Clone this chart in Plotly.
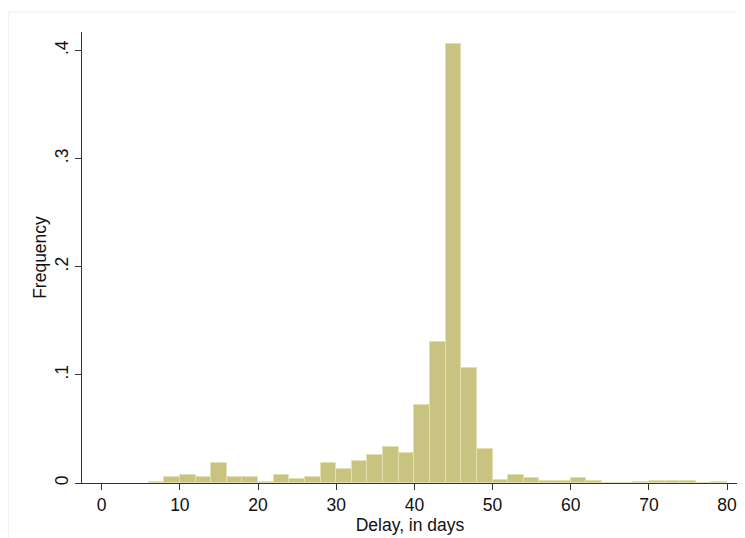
import plotly.graph_objects as go

# Histogram of delay (bin width 2 days), fraction per bin
bin_start = [6, 8, 10, 12, 14, 16, 18, 20, 22, 24, 26, 28, 30, 32, 34, 36, 38,
             40, 42, 44, 46, 48, 50, 52, 54, 56, 58, 60, 62, 64, 66, 68, 70, 72, 74, 76, 78]
fraction = [0.0012, 0.0052, 0.0077, 0.0052, 0.0187, 0.0052, 0.0052, 0.0012, 0.0077, 0.0040,
            0.0052, 0.0187, 0.0132, 0.0200, 0.0255, 0.0334, 0.0278,
            0.0722, 0.1300, 0.4060, 0.1060, 0.0316, 0.0032, 0.0074, 0.0049, 0.0021, 0.0021,
            0.0049, 0.0021, 0.0, 0.0, 0.0010, 0.0021, 0.0021, 0.0021, 0.0, 0.0010]
bin_width = 2

x_ticks = [0, 10, 20, 30, 40, 50, 60, 70, 80]
y_ticks = [0, 0.1, 0.2, 0.3, 0.4]
y_tick_text = ["0", ".1", ".2", ".3", ".4"]

centers = [s + bin_width / 2 for s in bin_start]

fig = go.Figure(go.Bar(
    x=centers, y=fraction, width=bin_width,
    marker=dict(color="rgb(200,195,128)", line=dict(color="rgb(226,223,176)", width=1)),
))

font = dict(family="Liberation Sans, Arial, sans-serif", size=17.5, color="#111")

# page has an 8px body margin, so the figure is 8px smaller and margins shifted
fig.update_layout(
    width=737, height=530,
    margin=dict(l=74, r=7, t=24, b=55),
    paper_bgcolor="white", plot_bgcolor="white",
    showlegend=False,
    font=font,
    bargap=0,
    shapes=[dict(type="rect", xref="paper", yref="paper", x0=-0.1128, x1=1.03, y0=-0.25, y1=1.044,
                 line=dict(color="#ececec", width=1), layer="below")],
)
fig.update_xaxes(
    range=[-2.52, 81.4], tickvals=x_ticks, ticks="outside", ticklen=6, tickwidth=1,
    tickcolor="#333", showline=True, linecolor="#333", linewidth=1, showgrid=False,
    zeroline=False, title=dict(text="Delay, in days", standoff=0, font=font),
)
fig.update_yaxes(
    range=[0, 0.417], tickvals=y_ticks, ticktext=y_tick_text, tickangle=-90,
    ticks="outside", ticklen=6, tickwidth=1, tickcolor="#333",
    showline=True, linecolor="#333", linewidth=1, showgrid=False, zeroline=False,
    title=dict(text="Frequency", standoff=0, font=font),
)

fig.write_html("out.html")
